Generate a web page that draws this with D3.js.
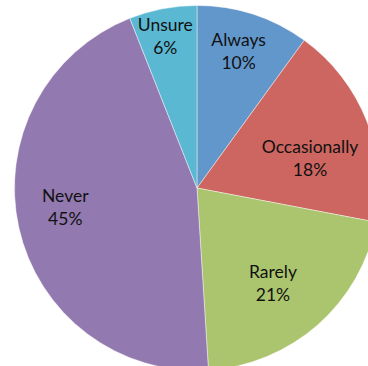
<!DOCTYPE html>
<html>
<head>
<meta charset="utf-8">
<script src="https://cdn.jsdelivr.net/npm/d3@7/dist/d3.min.js"></script>
<style>
  html, body { margin: 0; padding: 0; background: #fff; }
  svg { display: block; }
</style>
</head>
<body>
<svg id="chart" width="368" height="366"></svg>
<script>
// Survey answers and their share of responses (percent)
const categories = ["Always", "Occasionally", "Rarely", "Never", "Unsure"];
const values = [10, 18, 21, 45, 6];

// Slice colours, in category order
const colors = ["#6297cb", "#cd6660", "#abc56e", "#9279af", "#5bb8d2"];

// Label placement inside each slice: fraction of the radius and an angle nudge (degrees)
const labelRadius = [0.78, 0.64, 0.67, 0.73, 0.85];
const labelNudge = [-1, 7, 3, 4, -1];

const width = 368, height = 366;
const cx = 197, cy = 188, radius = 182.5;

const svg = d3.select("#chart");
const g = svg.append("g").attr("transform", `translate(${cx},${cy})`);

const data = categories.map((c, i) => ({ name: c, value: values[i], i }));

const pie = d3.pie()
  .value(d => d.value)
  .sort(null)
  .startAngle(0)
  .endAngle(2 * Math.PI);

const arcs = pie(data);

const arc = d3.arc().innerRadius(0).outerRadius(radius);

g.selectAll("path.slice")
  .data(arcs)
  .join("path")
  .attr("class", "slice")
  .attr("d", arc)
  .attr("fill", d => colors[d.data.i])
  .attr("stroke", "rgba(255,255,255,0.55)")
  .attr("stroke-width", 0.8);

const fmt = d3.format(".0%");
const total = d3.sum(values);

const labels = g.selectAll("text.label")
  .data(arcs)
  .join("text")
  .attr("class", "label")
  .attr("transform", d => {
    const a = (d.startAngle + d.endAngle) / 2 + labelNudge[d.data.i] * Math.PI / 180;
    const r = radius * labelRadius[d.data.i];
    return `translate(${r * Math.sin(a)},${-r * Math.cos(a)})`;
  })
  .attr("text-anchor", "middle")
  .attr("font-family", "Lato, 'Open Sans', sans-serif")
  .attr("font-size", 17.5)
  .attr("fill", "#111");

// Two lines per label, centred as a block on the anchor point
labels.append("tspan")
  .attr("x", 0)
  .attr("dy", "-0.32em")
  .text(d => d.data.name);

labels.append("tspan")
  .attr("x", 0)
  .attr("dy", "1.32em")
  .text(d => fmt(d.data.value / total));
</script>
</body>
</html>
